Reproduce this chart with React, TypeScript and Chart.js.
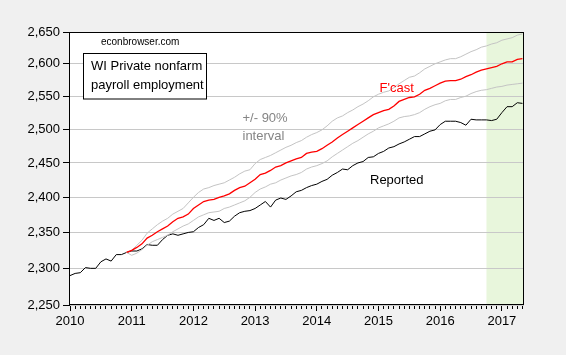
import React, { useEffect, useRef } from 'react';
import { Chart, registerables } from 'chart.js';

Chart.register(...registerables);

// Monthly data, index 0 = 2010M01
const YEARS = ['2010', '2011', '2012', '2013', '2014', '2015', '2016', '2017'];
const Y_TICKS = [2250, 2300, 2350, 2400, 2450, 2500, 2550, 2600, 2650];

const REPORTED = [
  2290, 2293, 2294, 2301, 2300, 2300, 2309, 2313, 2310, 2319, 2319, 2322,
  2324, 2324, 2327, 2333, 2332, 2332, 2340, 2346, 2348, 2346, 2348, 2350,
  2351, 2357, 2361, 2370, 2367, 2370, 2364, 2366, 2373, 2378, 2380, 2381,
  2384, 2389, 2394, 2386, 2396, 2399, 2397, 2402, 2408, 2410, 2414, 2417,
  2419, 2423, 2426, 2432, 2436, 2441, 2440, 2446, 2450, 2452, 2458, 2459,
  2464, 2467, 2472, 2474, 2478, 2481, 2485, 2489, 2489, 2493, 2497, 2499,
  2507, 2512, 2512, 2512, 2510, 2506, 2515, 2514, 2514, 2514, 2513, 2515,
  2525, 2534, 2534, 2540, 2539,
];

const FORECAST_START = 11; // 2010M12
const FORECAST = [
  2322,
  2325, 2329, 2334, 2342, 2346, 2351, 2355, 2359, 2365, 2370, 2372, 2376,
  2384, 2389, 2394, 2396, 2397, 2400, 2402, 2405, 2410, 2414, 2416, 2421,
  2426, 2433, 2435, 2439, 2444, 2446, 2450, 2453, 2456, 2458, 2464, 2466,
  2467, 2471, 2476, 2481, 2487, 2492, 2497, 2502, 2507, 2512, 2517, 2522,
  2525, 2528, 2530, 2535, 2542, 2545, 2548, 2549, 2553, 2559, 2562, 2566,
  2570, 2573, 2574, 2574, 2576, 2580, 2583, 2587, 2590, 2592, 2594, 2596,
  2600, 2603, 2603, 2607, 2608,
];
const UPPER = [
  2322,
  2325, 2332, 2339, 2349, 2355, 2361, 2366, 2370, 2376, 2380, 2384, 2392,
  2400, 2407, 2412, 2414, 2417, 2419, 2421, 2425, 2429, 2434, 2438, 2440,
  2449, 2455, 2458, 2461, 2465, 2469, 2473, 2476, 2480, 2483, 2488, 2492,
  2495, 2499, 2505, 2512, 2517, 2520, 2525, 2529, 2534, 2538, 2543, 2549,
  2553, 2556, 2558, 2563, 2569, 2574, 2579, 2581, 2586, 2592, 2596, 2600,
  2603, 2606, 2608, 2608, 2611, 2615, 2619, 2622, 2626, 2628, 2631, 2633,
  2637, 2639, 2641, 2645, 2647,
];
const LOWER = [
  2322,
  2318, 2321, 2326, 2332, 2337, 2340, 2343, 2346, 2351, 2355, 2359, 2362,
  2367, 2372, 2375, 2378, 2379, 2380, 2384, 2386, 2389, 2392, 2395, 2400,
  2407, 2412, 2415, 2419, 2421, 2425, 2428, 2431, 2433, 2436, 2441, 2444,
  2446, 2449, 2453, 2459, 2464, 2469, 2474, 2479, 2483, 2488, 2493, 2497,
  2502, 2505, 2508, 2512, 2517, 2519, 2520, 2522, 2525, 2530, 2534, 2537,
  2539, 2543, 2545, 2545, 2548, 2550, 2554, 2557, 2559, 2560, 2562, 2564,
  2565, 2567, 2568, 2569, 2570,
];

const SHADE_START = 81; // 2016M10
const X_MAX = 88.3;

const FONT = '"Liberation Sans", Arial, sans-serif';

export default function App() {
  const ref = useRef<HTMLCanvasElement>(null);

  useEffect(() => {
    document.body.style.margin = '0';
    const canvas = ref.current;
    if (!canvas) return;

    const toPts = (arr: number[], start: number) =>
      arr.map((v, i) => ({ x: start + i, y: v }));

    const bgPlugin = {
      id: 'bgPlugin',
      beforeDraw(chart: any) {
        const { ctx, chartArea: a, scales } = chart;
        ctx.save();
        ctx.fillStyle = '#f0f0f0';
        ctx.fillRect(0, 0, chart.width, chart.height);
        ctx.fillStyle = '#ffffff';
        ctx.fillRect(a.left, a.top, a.right - a.left, a.bottom - a.top);
        const xs = scales.x.getPixelForValue(SHADE_START);
        ctx.fillStyle = '#e8f6dc';
        ctx.fillRect(xs, a.top, a.right - xs, a.bottom - a.top);
        ctx.restore();
      },
    };

    const overlayPlugin = {
      id: 'overlayPlugin',
      afterDraw(chart: any) {
        const { ctx, chartArea: a } = chart;
        ctx.save();
        // plot frame
        ctx.strokeStyle = '#000';
        ctx.lineWidth = 1;
        const l = Math.round(a.left) - 0.5;
        const t = Math.round(a.top) + 0.5;
        const r = Math.round(a.right) - 0.5;
        const b = Math.round(a.bottom) - 0.5;
        ctx.strokeRect(l, t, r - l, b - t);

        ctx.textBaseline = 'alphabetic';
        ctx.textAlign = 'left';
        // source
        ctx.fillStyle = '#000';
        ctx.font = `10px ${FONT}`;
        ctx.fillText('econbrowser.com', 101, 45);

        // title box
        ctx.fillStyle = '#fff';
        ctx.fillRect(83.5, 53.5, 123, 45.5);
        ctx.strokeStyle = '#000';
        ctx.strokeRect(83.5, 53.5, 123, 45.5);
        ctx.fillStyle = '#000';
        ctx.font = `13px ${FONT}`;
        ctx.fillText('WI Private nonfarm', 91, 70);
        ctx.fillText('payroll employment', 91, 88.5);

        // series labels
        ctx.fillStyle = '#ff0000';
        ctx.fillText("F'cast", 379.5, 91.5);
        ctx.fillStyle = '#000';
        ctx.fillText('Reported', 370, 183.5);
        ctx.fillStyle = '#858585';
        ctx.fillText('+/- 90%', 242.5, 121.5);
        ctx.fillText('interval', 242.5, 140);
        ctx.restore();
      },
    };

    const common = {
      xAxisID: 'x',
      yAxisID: 'y',
      pointRadius: 0,
      pointHoverRadius: 0,
      fill: false,
      tension: 0,
      borderWidth: 1,
    };

    const chart = new Chart(canvas, {
      type: 'line',
      data: {
        datasets: [
          { ...common, label: "F'cast", data: toPts(FORECAST, FORECAST_START), borderColor: '#ff0000', borderWidth: 1.3 },
          { ...common, label: 'Upper', data: toPts(UPPER, FORECAST_START), borderColor: '#c4c4c4' },
          { ...common, label: 'Lower', data: toPts(LOWER, FORECAST_START), borderColor: '#c4c4c4' },
          { ...common, label: 'Reported', data: toPts(REPORTED, 0), borderColor: '#000000' },
        ],
      },
      options: {
        responsive: false,
        animation: false,
        devicePixelRatio: 1,
        layout: { padding: { left: 0, top: 32, right: 42, bottom: 10 } },
        plugins: {
          legend: { display: false },
          tooltip: { enabled: false },
        },
        events: [],
        scales: {
          x: {
            type: 'linear',
            position: 'bottom',
            min: 0,
            max: X_MAX,
            weight: 1,
            afterBuildTicks: (s: any) => {
              s.ticks = YEARS.map((_, k) => ({ value: k * 12 }));
            },
            afterFit: (s: any) => {
              s.height = 40;
            },
            grid: {
              drawOnChartArea: false,
              drawTicks: true,
              tickLength: 6,
              tickColor: '#000',
              tickWidth: 1,
            },
            border: { display: false },
            ticks: {
              autoSkip: false,
              maxRotation: 0,
              minRotation: 0,
              color: '#000',
              padding: 3,
              font: { family: FONT, size: 13 },
              callback: (v: any) => YEARS[Math.round(Number(v) / 12)] ?? '',
            },
          },
          xMinor: {
            type: 'linear',
            position: 'bottom',
            min: 0,
            max: X_MAX,
            weight: 0,
            afterBuildTicks: (s: any) => {
              s.ticks = REPORTED.map((_, i) => ({ value: i }));
            },
            afterFit: (s: any) => {
              s.height = 0;
            },
            grid: {
              drawOnChartArea: false,
              drawTicks: true,
              tickLength: 4,
              tickColor: '#000',
              tickWidth: 1,
            },
            border: { display: false },
            ticks: { display: false },
          },
          y: {
            type: 'logarithmic',
            min: 2250,
            max: 2650,
            afterBuildTicks: (s: any) => {
              s.ticks = Y_TICKS.map((v) => ({ value: v }));
            },
            afterFit: (s: any) => {
              s.width = 70;
            },
            grid: {
              color: '#c8c8c8',
              lineWidth: 1,
              drawTicks: true,
              tickLength: 7,
              tickColor: '#000',
              tickWidth: 1,
            },
            border: { display: false },
            ticks: {
              autoSkip: false,
              color: '#000',
              padding: 3,
              font: { family: FONT, size: 13 },
              callback: (v: any) => Number(v).toLocaleString('en-US'),
            },
          },
        },
      },
      plugins: [bgPlugin, overlayPlugin],
    } as any);

    return () => chart.destroy();
  }, []);

  return (
    <div
      style={{
        position: 'fixed',
        left: 0,
        top: 0,
        width: 566,
        height: 355,
        background: '#f0f0f0',
      }}
    >
      <canvas ref={ref} width={566} height={355} style={{ display: 'block' }} />
    </div>
  );
}
